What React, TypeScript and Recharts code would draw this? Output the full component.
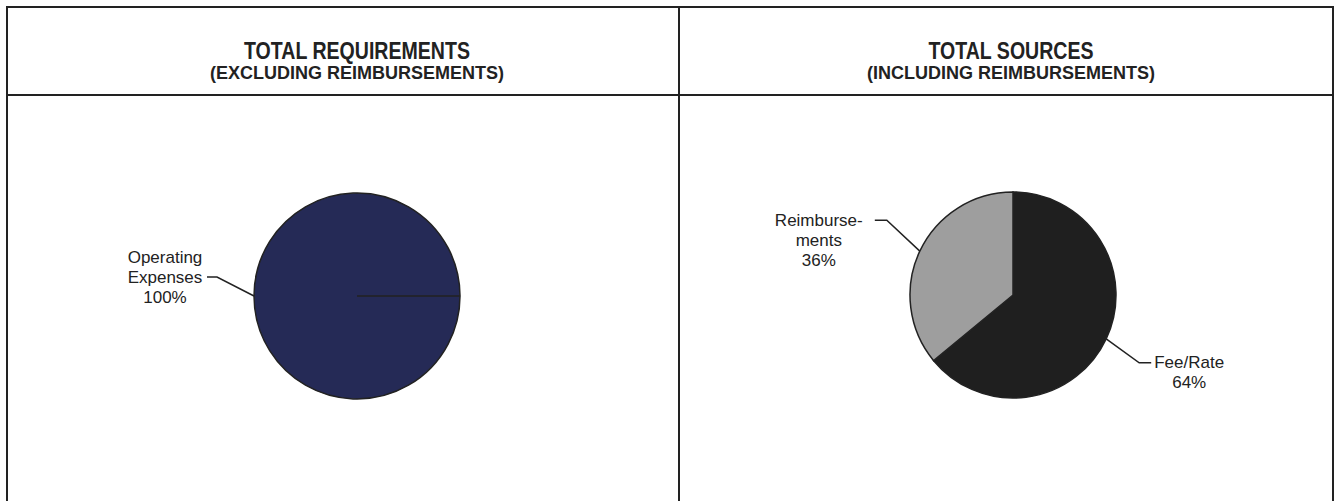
import { PieChart, Pie, Cell } from 'recharts';

// left panel: requirements
const requirementNames = ['Operating Expenses'];
const requirementValues = [100];
const requirementColors = ['#252a56'];

// right panel: sources
const sourceNames = ['Fee/Rate', 'Reimbursements'];
const sourceValues = [64, 36];
const sourceColors = ['#1f1f1f', '#9e9e9e'];

const requirementData = requirementNames.map((name, i) => ({ name, value: requirementValues[i] }));
const sourceData = sourceNames.map((name, i) => ({ name, value: sourceValues[i] }));

// leader line + text placement, relative to the slice edge point
const labelLayout: Record<string, { lines: string[]; dx: number; dy: number; tail: number; textDx: number; anchorLine: number }> = {
  'Operating Expenses': { lines: ['Operating', 'Expenses'], dx: -37, dy: -19, tail: -10, textDx: -42, anchorLine: 1 },
  Reimbursements: { lines: ['Reimburse-', 'ments'], dx: -33, dy: -31, tail: -12, textDx: -56, anchorLine: 0 },
  'Fee/Rate': { lines: ['Fee/Rate'], dx: 33, dy: 24, tail: 12, textDx: 38, anchorLine: 0 },
};

const RADIAN = Math.PI / 180;
const FONT = '"Liberation Sans", Arial, sans-serif';
const INK = '#222';

function renderLabel(props: any) {
  const { cx, cy, midAngle, outerRadius, name, percent } = props;
  const cfg = labelLayout[name];
  if (!cfg) return null;
  const ex = cx + outerRadius * Math.cos(-midAngle * RADIAN);
  const ey = cy + outerRadius * Math.sin(-midAngle * RADIAN);
  const bx = ex + cfg.dx;
  const by = ey + cfg.dy;
  const tx = bx + cfg.tail;
  const lines = [...cfg.lines, `${Math.round(percent * 100)}%`];
  return (
    <g>
      <polyline points={`${ex},${ey} ${bx},${by} ${tx},${by}`} fill="none" stroke={INK} strokeWidth={1.5} />
      {lines.map((t, i) => (
        <text
          key={i}
          x={tx + cfg.textDx}
          y={by + (i - cfg.anchorLine) * 20}
          textAnchor="middle"
          dominantBaseline="central"
          fontFamily={FONT}
          fontSize={17}
          fill={INK}
        >
          {t}
        </text>
      ))}
    </g>
  );
}

const line = (style: React.CSSProperties) => (
  <div style={{ position: 'absolute', background: INK, ...style }} />
);

function Title({ cx, title, sub }: { cx: number; title: string; sub: string }) {
  return (
    <div style={{ position: 'absolute', left: cx - 250, top: 39, width: 500, textAlign: 'center', fontFamily: FONT, fontWeight: 'bold', color: INK }}>
      <div style={{ fontSize: 23, lineHeight: '25px', transform: 'scaleX(0.85)' }}>{title}</div>
      <div style={{ fontSize: 18, lineHeight: '19px' }}>{sub}</div>
    </div>
  );
}

export default function App() {
  return (
    <div style={{ position: 'absolute', left: 0, top: 0, width: 1340, height: 501, background: '#fff', overflow: 'hidden' }}>
      <PieChart width={1340} height={501} margin={{ top: 0, right: 0, bottom: 0, left: 0 }} style={{ position: 'absolute', left: 0, top: 0 }}>
        <Pie
          data={requirementData}
          dataKey="value"
          nameKey="name"
          cx={357}
          cy={296}
          outerRadius={103}
          startAngle={0}
          endAngle={360}
          stroke={INK}
          strokeWidth={1.5}
          label={renderLabel}
          labelLine={false}
          isAnimationActive={false}
        >
          {requirementData.map((d, i) => <Cell key={d.name} fill={requirementColors[i]} />)}
        </Pie>
        <Pie
          data={sourceData}
          dataKey="value"
          nameKey="name"
          cx={1013}
          cy={295}
          outerRadius={103}
          startAngle={90}
          endAngle={-270}
          stroke={INK}
          strokeWidth={1.5}
          label={renderLabel}
          labelLine={false}
          isAnimationActive={false}
        >
          {sourceData.map((d, i) => <Cell key={d.name} fill={sourceColors[i]} />)}
        </Pie>
      </PieChart>

      {line({ left: 6, top: 6, width: 1328, height: 2 })}
      {line({ left: 6, top: 94, width: 1328, height: 2 })}
      {line({ left: 6, top: 6, width: 2, height: 495 })}
      {line({ left: 678, top: 6, width: 2, height: 495 })}
      {line({ left: 1332, top: 6, width: 2, height: 495 })}

      <Title cx={357} title="TOTAL REQUIREMENTS" sub="(EXCLUDING REIMBURSEMENTS)" />
      <Title cx={1011} title="TOTAL SOURCES" sub="(INCLUDING REIMBURSEMENTS)" />
    </div>
  );
}
